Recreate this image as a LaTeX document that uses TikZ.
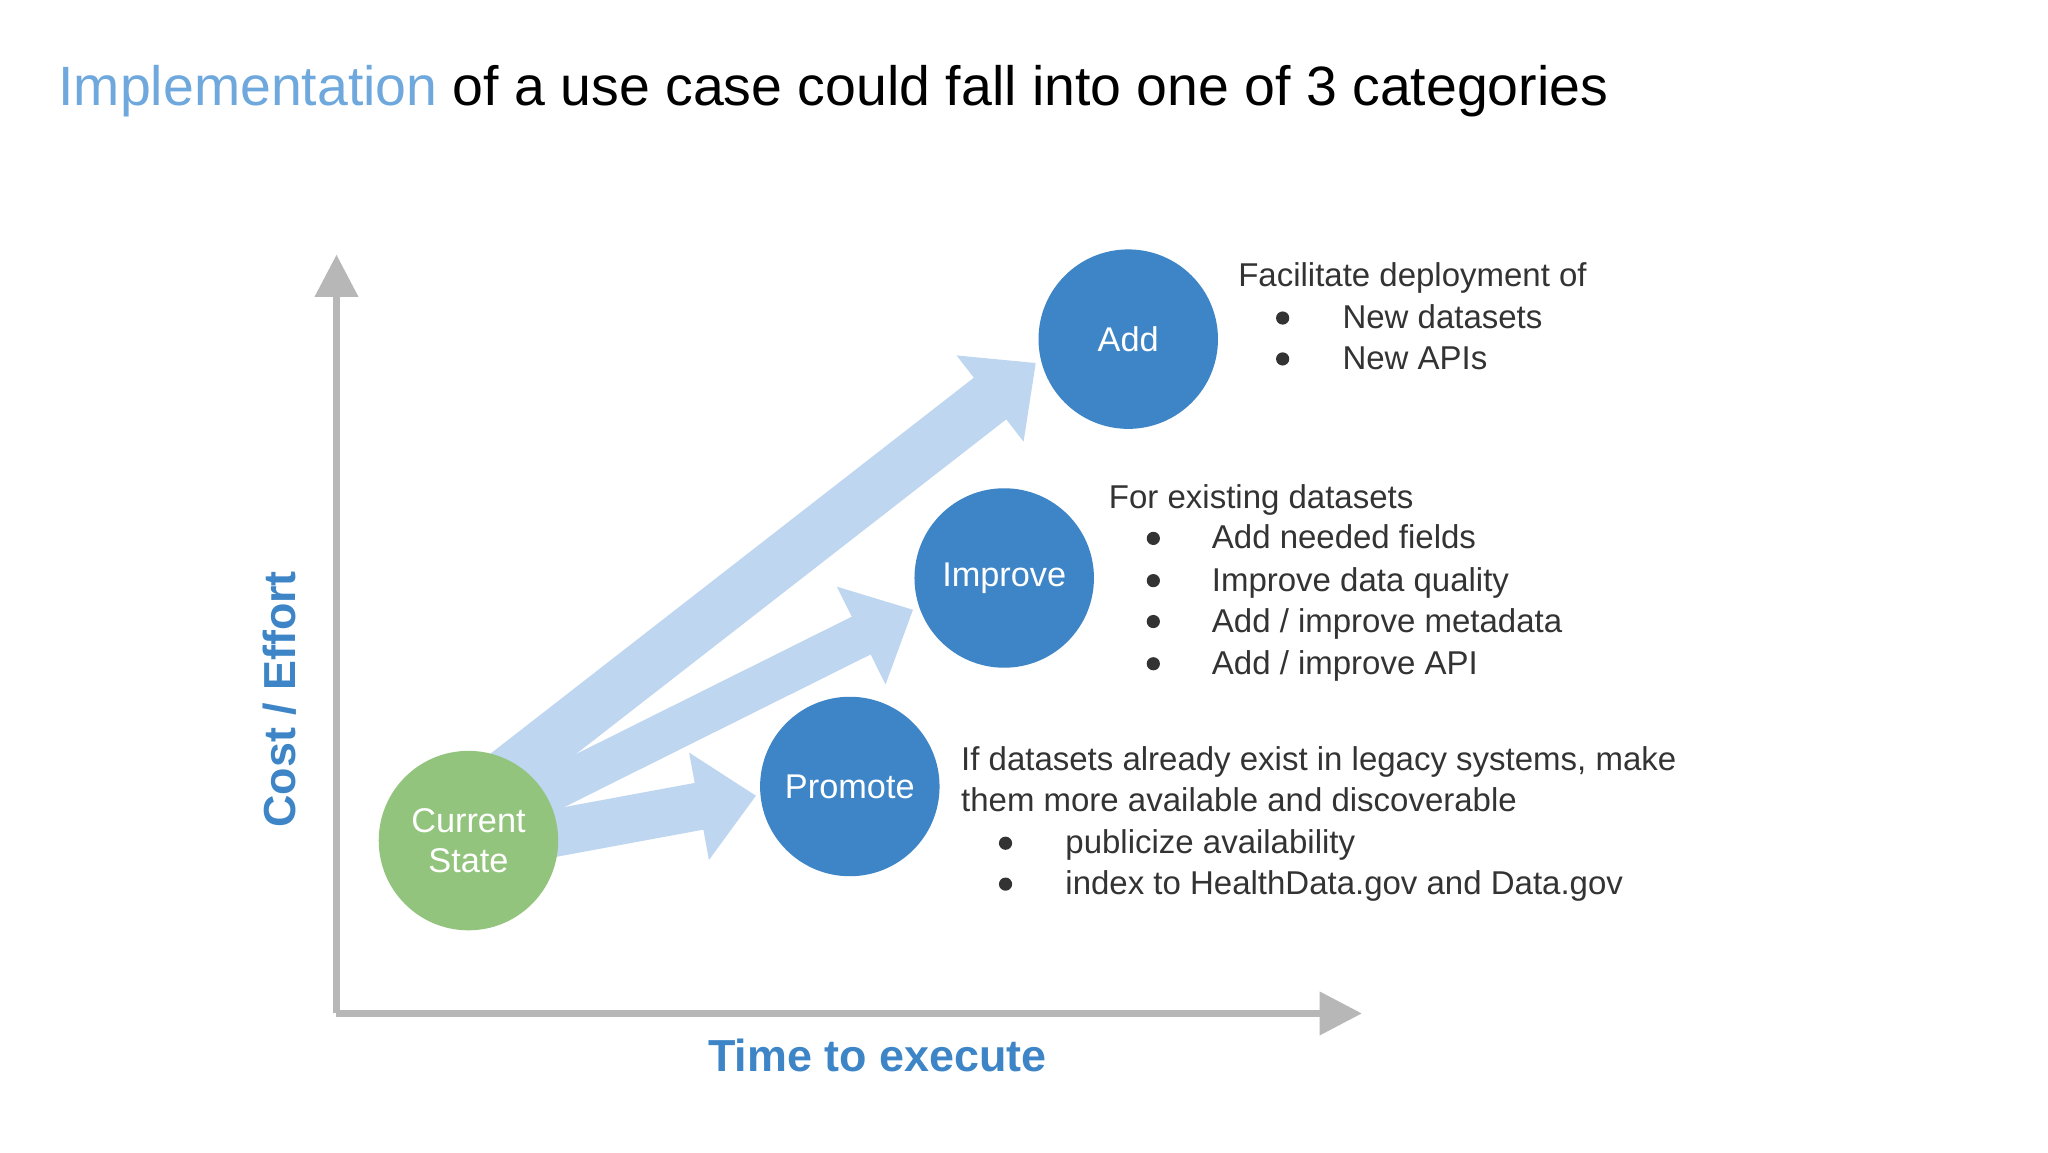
\documentclass[tikz,border=0pt]{standalone}
\usepackage{fontspec}
\setmainfont{Liberation Sans}
\usetikzlibrary{arrows.meta}
\definecolor{tblue}{HTML}{6FA8DC}
\definecolor{cblue}{HTML}{3D85C6}
\definecolor{cgreen}{HTML}{93C47D}
\definecolor{ablue}{HTML}{BFD6F0}
\definecolor{axgrey}{HTML}{B7B7B7}
\definecolor{txt}{HTML}{333333}
\begin{document}
\begin{tikzpicture}[x=0.5pt,y=-0.5pt,
  circ/.style={circle,draw=none,fill=cblue,minimum size=68pt,inner sep=0pt,text=white,font=\fontsize{13}{15}\selectfont,align=center},
  body/.style={anchor=base west,inner sep=0pt,text=txt,font=\fontsize{12.5}{15}\selectfont},
  bul/.style={circle,fill=txt,minimum size=5pt,inner sep=0pt},
  axis/.style={draw=axgrey,line width=2.5pt,-{Triangle[length=16pt,width=16pt]}},
  big/.style={draw=ablue,-{Triangle[length=22pt,width=40pt]}},
  axl/.style={text=cblue,font=\fontsize{17}{20}\selectfont\bfseries}]
\useasboundingbox (0,0) rectangle (1552,873);
\fill[white] (0,0) rectangle (1552,873);
\node[anchor=base west,inner sep=0pt,font=\fontsize{21}{25}\selectfont] (title) at (44,80) {\textcolor{tblue}{Implementation} of a use case could fall into one of 3 categories};
% axes
\coordinate (o) at (255,768);
\coordinate (ytop) at (255,193);
\coordinate (xend) at (1032,768);
\draw[axis] (o) -- (ytop);
\draw[axis] (o) -- (xend);
\node[axl,rotate=90] (ylab) at (212,530) {Cost / Effort};
\node[axl] (xlab) at (665,800) {Time to execute};
% nodes
\node[circ] (add) at (855,257) {Add};
\node[circ] (imp) at (761,438) {Improve};
\node[circ] (pro) at (644,596) {Promote};
\coordinate (cs0) at (380,590);
\coordinate (cs1) at (395,610);
\coordinate (cs2) at (400,635);
\coordinate (tadd) at (785,275);
\coordinate (timp) at (692,462);
\coordinate (tpro) at (573,603);
\draw[big,line width=20pt] (cs0) -- (tadd);
\draw[big,line width=16pt] (cs1) -- (timp);
\draw[big,line width=18pt] (cs2) -- (tpro);
\node[circ,fill=cgreen] (cur) at (355,637) {Current\\State};
% texts
\node[body] (a0) at (938,217) {Facilitate deployment of};
\node[bul] (ab1) at (972,241) {}; \node[body] (a1) at (1017,249) {New datasets};
\node[bul] (ab2) at (972,272) {}; \node[body] (a2) at (1017,280) {New APIs};
\node[body] (i0) at (840,385) {For existing datasets};
\node[bul] (ib1) at (874,408) {}; \node[body] (i1) at (918,416) {Add needed fields};
\node[bul] (ib2) at (874,440) {}; \node[body] (i2) at (918,448) {Improve data quality};
\node[body] (i3) at (918,479) {Add / improve metadata}; \node[bul] (ib3) at (874,471) {};
\node[body] (i4) at (918,511) {Add / improve API}; \node[bul] (ib4) at (874,503) {};
\node[body] (p0) at (728,584) {If datasets already exist in legacy systems, make};
\node[body] (p1) at (728,615) {them more available and discoverable};
\node[bul] (pb1) at (762,639) {}; \node[body] (p2) at (807,647) {publicize availability};
\node[bul] (pb2) at (762,670) {}; \node[body] (p3) at (807,678) {index to HealthData.gov and Data.gov};
\end{tikzpicture}
\end{document}
